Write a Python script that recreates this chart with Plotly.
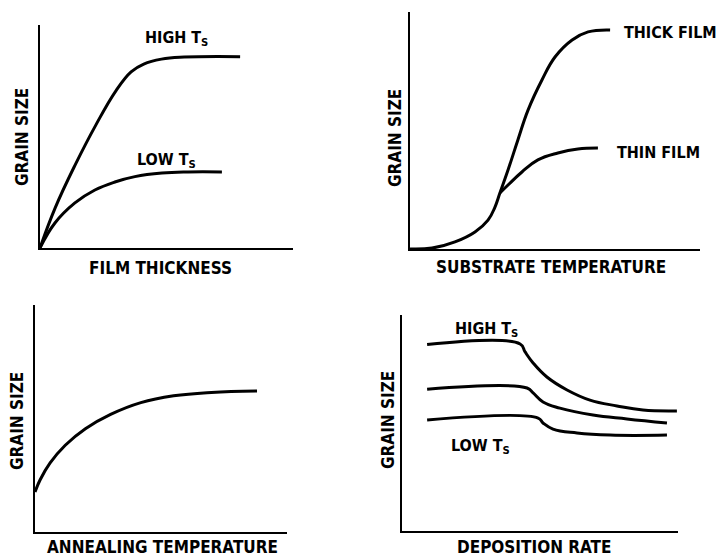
import plotly.graph_objects as go

# ---- data (arbitrary units 0-10 on each sketch axis) ----
ft_x_high = [0, 0.6, 1.4, 2.2, 3.0, 3.6, 4.1, 4.8, 5.7, 7.91]
ft_y_high = [0, 1.8, 3.75, 5.5, 7.05, 7.9, 8.25, 8.47, 8.56, 8.58]
ft_x_low = [0, 0.59, 1.38, 2.17, 2.96, 3.75, 4.82, 5.85, 7.19]
ft_y_low = [0, 1.12, 2.02, 2.60, 2.96, 3.20, 3.36, 3.41, 3.41]

st_x_thick = [0, 0.76, 1.55, 2.24, 2.69, 2.93, 3.10, 3.38, 3.72, 4.07, 4.55, 5.0, 5.59, 6.14, 6.90]
st_y_thick = [0, 0.04, 0.30, 0.72, 1.22, 1.77, 2.36, 3.33, 4.60, 5.86, 7.13, 8.10, 8.82, 9.16, 9.24]
st_x_thin = [3.10, 3.38, 3.86, 4.41, 5.10, 5.79, 6.48]
st_y_thin = [2.36, 2.70, 3.25, 3.76, 4.05, 4.22, 4.26]

an_x = [0, 0.2, 0.6, 1.2, 2.0, 3.0, 4.2, 5.5, 7.0, 8.81]
an_y = [1.76, 2.29, 3.04, 3.82, 4.55, 5.18, 5.70, 6.0, 6.15, 6.21]

dr_x_high = [0.91, 4.28, 4.46, 4.75, 5.25, 5.98, 6.81, 7.79, 8.73, 9.96]
dr_y_high = [8.63, 8.66, 8.29, 7.78, 7.13, 6.53, 6.06, 5.79, 5.60, 5.56]
dr_x_mid = [0.91, 4.53, 4.75, 5.11, 5.72, 6.92, 8.15, 9.60]
dr_y_mid = [6.56, 6.62, 6.39, 5.97, 5.69, 5.37, 5.19, 5.0]
dr_x_low = [0.91, 4.93, 5.11, 5.47, 6.34, 7.54, 9.60]
dr_y_low = [5.14, 5.23, 5.0, 4.72, 4.54, 4.44, 4.44]

x_titles = ["FILM THICKNESS", "SUBSTRATE TEMPERATURE", "ANNEALING TEMPERATURE", "DEPOSITION RATE"]
y_title = "GRAIN SIZE"

W, H = 720, 556
FONT = "DejaVu Sans Condensed"
fig = go.Figure()

line = dict(color="black", width=3, shape="spline", smoothing=1.2)

def add(x, y, n):
    ax = "" if n == 1 else str(n)
    fig.add_trace(go.Scatter(x=x, y=y, mode="lines", line=line,
                             xaxis="x" + ax, yaxis="y" + ax,
                             showlegend=False, hoverinfo="skip"))

add(ft_x_high, ft_y_high, 1)
add(ft_x_low, ft_y_low, 1)
add(st_x_thick, st_y_thick, 2)
add(st_x_thin, st_y_thin, 2)
add(an_x, an_y, 3)
add(dr_x_high, dr_y_high, 4)
add(dr_x_mid, dr_y_mid, 4)
add(dr_x_low, dr_y_low, 4)

# panel boxes in pixels: (left, right, bottom, top)
boxes = [(40, 293, 248, 25), (410, 700, 249, 12), (35, 287, 532, 305), (402, 678, 531, 315)]

layout = dict(width=W, height=H, margin=dict(l=0, r=0, t=0, b=0),
              paper_bgcolor="white", plot_bgcolor="white", showlegend=False)
for i, (l, r, b, t) in enumerate(boxes, start=1):
    ax = "" if i == 1 else str(i)
    common = dict(showline=True, linecolor="black", linewidth=2, showgrid=False,
                  zeroline=False, showticklabels=False, ticks="", range=[0, 10],
                  fixedrange=True)
    layout["xaxis" + ax] = dict(domain=[l / W, r / W], anchor="y" + ax, **common)
    layout["yaxis" + ax] = dict(domain=[1 - b / H, 1 - t / H], anchor="x" + ax, **common)
fig.update_layout(**layout)

def ann(text, px, py, angle=0, xanchor="center", size=17):
    fig.add_annotation(text=text, x=px / W, y=1 - py / H, xref="paper", yref="paper",
                       showarrow=False, textangle=angle,
                       font=dict(family=FONT, size=size, color="black", weight="bold"),
                       xanchor=xanchor, yanchor="middle")

# axis titles
xt_pos = [(160, 268), (551, 267), (162, 547), (534, 547)]
yt_pos = [(22, 137), (395, 138), (17, 421), (388, 420)]
for t, (px, py) in zip(x_titles, xt_pos):
    ann(t, px, py)
for (px, py) in yt_pos:
    ann(y_title, px, py, angle=-90)

# curve labels
ann("HIGH T<sub>S</sub>", 176, 38, size=16)
ann("LOW T<sub>S</sub>", 166, 160, size=16)
ann("THICK FILM", 622, 33, xanchor="left", size=16)
ann("THIN FILM", 615, 152, xanchor="left", size=16)
ann("HIGH T<sub>S</sub>", 486, 329, size=16)
ann("LOW T<sub>S</sub>", 481, 446, size=16)

fig.write_html("out.html")
